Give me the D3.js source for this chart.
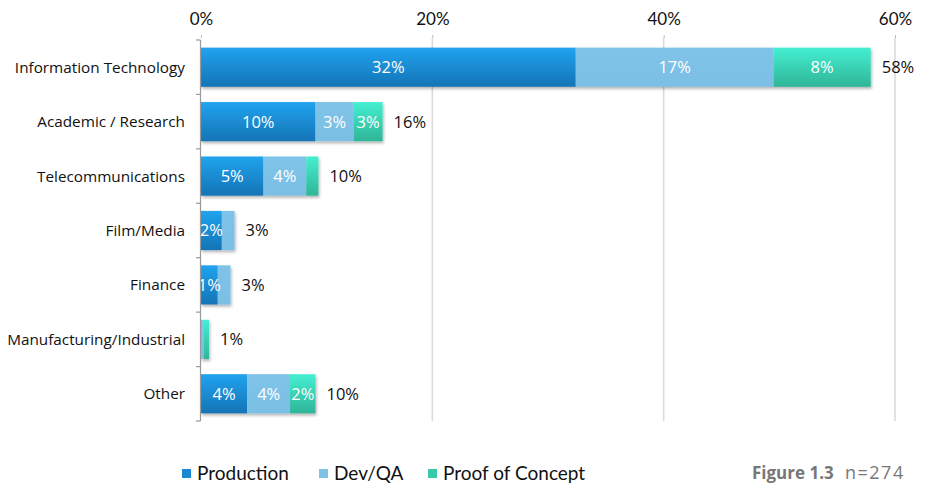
<!DOCTYPE html>
<html>
<head>
<meta charset="utf-8">
<script src="https://cdnjs.cloudflare.com/ajax/libs/d3/7.8.5/d3.min.js"></script>
<style>
  body { margin: 0; background: #fff; }
  svg { display: block; }
</style>
</head>
<body>
<div id="chart"></div>
<script>
const width = 931;
const height = 484;

// data (percent of respondents)
const categories = ["Information Technology", "Academic / Research", "Telecommunications",
  "Film/Media", "Finance", "Manufacturing/Industrial", "Other"];
const production = [32.4, 9.9, 5.4, 1.8, 1.45, 0, 4.0];
const devqa      = [17.1, 3.3, 3.7, 1.1, 1.1, 0.25, 3.7];
const poc        = [8.4, 2.5, 1.05, 0, 0, 0.45, 2.2];
const seriesNames = ["Production", "Dev/QA", "Proof of Concept"];
const xTicks = [0, 20, 40, 60];

const rows = categories.map((c, i) => ({
  cat: c, Production: production[i], "Dev/QA": devqa[i], "Proof of Concept": poc[i],
  total: production[i] + devqa[i] + poc[i]
}));

const svg = d3.select("#chart").append("svg")
  .attr("width", width).attr("height", height);

const defs = svg.append("defs");
let grad = (id, top, bottom) => {
  let g = defs.append("linearGradient").attr("id", id)
    .attr("x1", 0).attr("y1", 0).attr("x2", 0).attr("y2", 1);
  g.append("stop").attr("offset", "0%").attr("stop-color", top);
  g.append("stop").attr("offset", "100%").attr("stop-color", bottom);
};
grad("gProd", "#21a3ee", "#1574b6");
grad("gDev", "#80c3e8", "#7cbfe4");
grad("gPoc", "#45efd2", "#2fb597");
defs.append("filter").attr("id", "shadow")
  .attr("x", "-5%").attr("y", "-20%").attr("width", "115%").attr("height", "150%")
  .append("feDropShadow")
  .attr("dx", 1).attr("dy", 2).attr("stdDeviation", 1.5)
  .attr("flood-color", "#000").attr("flood-opacity", 0.3);

const fills = { "Production": "url(#gProd)", "Dev/QA": "url(#gDev)", "Proof of Concept": "url(#gPoc)" };
const legendColors = { "Production": "#1a87d0", "Dev/QA": "#7fc2e6", "Proof of Concept": "#36c9aa" };

const x = d3.scaleLinear().domain([0, 60]).range([201, 895]);
const y = d3.scaleBand().domain(categories).range([40, 421])
  .paddingInner(0.28).paddingOuter(0.14);

// gridlines
svg.append("g").selectAll("line")
  .data(xTicks.filter(d => d > 0))
  .enter().append("line")
  .attr("x1", d => x(d)).attr("x2", d => x(d))
  .attr("y1", 38).attr("y2", 421)
  .attr("stroke", "#d9d9d9").attr("stroke-width", 1.5);

// top axis
const xAxis = d3.axisTop(x).tickValues(xTicks).tickFormat(d => d + "%").tickSize(3).tickPadding(10);
const gx = svg.append("g").attr("transform", "translate(0,38)").call(xAxis);
gx.select(".domain").remove();
gx.selectAll(".tick line").attr("stroke", "#bbb");
gx.selectAll("text").attr("font-family", "Lato, sans-serif").attr("font-size", 17).attr("fill", "#111");

// stacked bars
const stack = d3.stack().keys(seriesNames)(rows);
const layers = svg.append("g").attr("filter", "url(#shadow)");
stack.forEach(layer => {
  layers.selectAll(null)
    .data(layer.filter(d => d[1] > d[0]))
    .enter().append("rect")
    .attr("x", d => x(d[0]))
    .attr("y", d => y(d.data.cat))
    .attr("width", d => x(d[1]) - x(d[0]))
    .attr("height", y.bandwidth())
    .attr("fill", fills[layer.key]);
});

// segment labels
const fmt = d => Math.round(d) + "%";
stack.forEach(layer => {
  svg.append("g").selectAll("text")
    .data(layer.filter(d => d[1] - d[0] >= 1.4))
    .enter().append("text")
    .attr("x", d => (x(d[0]) + x(d[1])) / 2)
    .attr("y", d => y(d.data.cat) + y.bandwidth() / 2)
    .attr("dy", "0.36em")
    .attr("text-anchor", "middle")
    .attr("font-family", "'Open Sans', sans-serif")
    .attr("font-size", 16.5)
    .attr("fill", "#fff")
    .text(d => fmt(d[1] - d[0]));
});

// totals
svg.append("g").selectAll("text")
  .data(rows)
  .enter().append("text")
  .attr("x", d => x(d.total) + 11)
  .attr("y", d => y(d.cat) + y.bandwidth() / 2)
  .attr("dy", "0.36em")
  .attr("font-family", "'Open Sans', sans-serif")
  .attr("font-size", 16.5)
  .attr("fill", "#111")
  .text(d => fmt(d.total));

// left axis (line + ticks at band edges)
const edge = (y.step() - y.bandwidth()) / 2;
const bounds = categories.map(c => y(c) - edge).concat([y(categories[categories.length - 1]) + y.bandwidth() + edge]);
svg.append("line").attr("x1", 200.5).attr("x2", 200.5)
  .attr("y1", bounds[0]).attr("y2", bounds[bounds.length - 1])
  .attr("stroke", "#9a9a9a").attr("stroke-width", 1.2);
svg.append("g").selectAll("line").data(bounds).enter().append("line")
  .attr("x1", 196).attr("x2", 200.5)
  .attr("y1", d => d).attr("y2", d => d)
  .attr("stroke", "#9a9a9a").attr("stroke-width", 1.2);

svg.append("g").selectAll("text")
  .data(categories)
  .enter().append("text")
  .attr("x", 185)
  .attr("y", d => y(d) + y.bandwidth() / 2)
  .attr("dy", "0.36em")
  .attr("text-anchor", "end")
  .attr("font-family", "'Open Sans', sans-serif")
  .attr("font-size", 15.3)
  .attr("fill", "#111")
  .text(d => d);

// legend
const legendX = [182, 319, 428];
const legend = svg.append("g");
seriesNames.forEach((s, i) => {
  legend.append("rect")
    .attr("x", legendX[i]).attr("y", 469).attr("width", 9).attr("height", 9)
    .attr("fill", legendColors[s]);
  legend.append("text")
    .attr("x", legendX[i] + 15).attr("y", 480)
    .attr("font-family", "Lato, sans-serif").attr("font-size", 19)
    .attr("fill", "#111")
    .text(s);
});

svg.append("text").attr("x", 752).attr("y", 479)
  .attr("font-family", "'Open Sans', sans-serif").attr("font-size", 17).attr("font-weight", "bold")
  .attr("fill", "#777").text("Figure 1.3");
svg.append("text").attr("x", 845).attr("y", 479)
  .attr("font-family", "'Open Sans', sans-serif").attr("font-size", 18)
  .attr("letter-spacing", 1.5)
  .attr("fill", "#777").text("n=274");
</script>
</body>
</html>
